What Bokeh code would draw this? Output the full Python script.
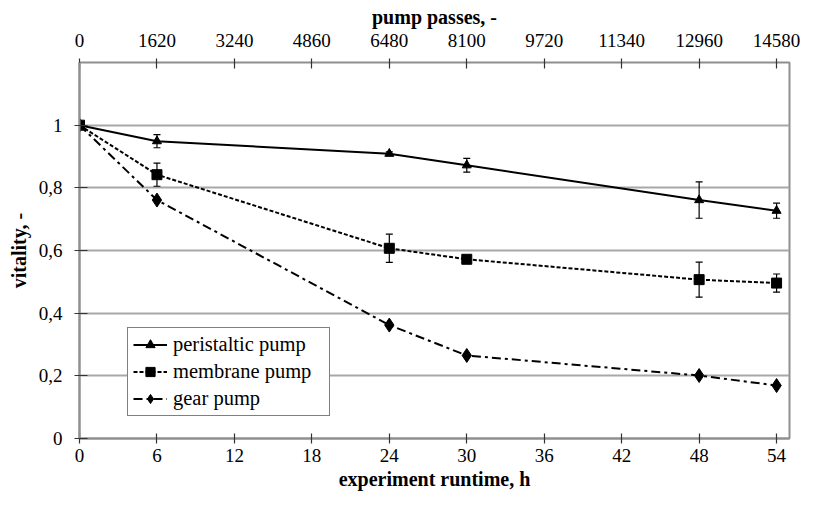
from bokeh.plotting import figure
from bokeh.models import (LinearAxis, Range1d, FixedTicker, Whisker, ColumnDataSource,
                          TeeHead, Legend, LegendItem)
from bokeh.embed import file_html
from bokeh.resources import INLINE

# ---- data ----
hours = [0, 6, 24, 30, 48, 54]
peristaltic = [1.0, 0.949, 0.909, 0.872, 0.761, 0.727]
peristaltic_err = [0.0, 0.021, 0.006, 0.022, 0.058, 0.024]
membrane = [1.0, 0.842, 0.607, 0.572, 0.507, 0.496]
membrane_err = [0.0, 0.037, 0.045, 0.008, 0.056, 0.029]
gear = [1.0, 0.761, 0.362, 0.265, 0.201, 0.169]

hour_ticks = [0, 6, 12, 18, 24, 30, 36, 42, 48, 54]
pass_ticks = [0, 1620, 3240, 4860, 6480, 8100, 9720, 11340, 12960, 14580]
y_ticks = [0, 0.2, 0.4, 0.6, 0.8, 1.0]
y_labels = ["0", "0,2", "0,4", "0,6", "0,8", "1"]

FONT = "Liberation Serif"
GRAY = "#8f8f8f"
X_MAX = 55
Y_MAX = 1.2

p = figure(width=800, height=492, x_range=Range1d(0, X_MAX), y_range=Range1d(0, Y_MAX),
           output_backend="svg", toolbar_location=None,
           min_border_left=79, min_border_right=11, min_border_top=62, min_border_bottom=54)
p.background_fill_color = "white"
p.border_fill_color = "white"
p.outline_line_color = GRAY
p.outline_line_width = 2

passes_per_hour = pass_ticks[-1] / hour_ticks[-1]
p.extra_x_ranges = {"passes": Range1d(0, X_MAX * passes_per_hour)}

def style_axis(ax, label):
    ax.axis_label = label
    ax.axis_label_text_font = FONT
    ax.axis_label_text_font_style = "bold"
    ax.axis_label_text_font_size = "20px"
    ax.axis_label_text_color = "black"
    ax.major_label_text_font = FONT
    ax.major_label_text_font_size = "19px"
    ax.major_label_text_color = "black"
    ax.axis_line_color = GRAY
    ax.axis_line_width = 2
    ax.major_tick_line_color = "#333333"
    ax.major_tick_line_width = 1.2
    ax.major_tick_in = 5
    ax.major_tick_out = 5
    ax.minor_tick_line_color = None

xa = p.xaxis[0]
style_axis(xa, "experiment runtime, h")
xa.ticker = FixedTicker(ticks=hour_ticks)
xa.major_label_standoff = 5
xa.axis_label_standoff = 3

ya = p.yaxis[0]
style_axis(ya, "vitality, -")
ya.ticker = FixedTicker(ticks=y_ticks)
ya.major_label_overrides = {t: l for t, l in zip(y_ticks, y_labels)}
ya.major_label_standoff = 12
ya.axis_label_standoff = 6
ya.major_tick_in = 8

top = LinearAxis(x_range_name="passes")
style_axis(top, "pump passes, -")
top.ticker = FixedTicker(ticks=pass_ticks)
top.major_label_standoff = 12
top.axis_label_standoff = 3
top.axis_line_color = None
top.major_tick_in = 6
top.major_tick_out = 4
p.add_layout(top, "above")

p.xgrid.grid_line_color = None
p.ygrid.ticker = FixedTicker(ticks=y_ticks[1:])
p.ygrid.grid_line_color = "#a8a8a8"
p.ygrid.grid_line_width = 2

# error bars
def add_whisker(xs, ys, errs):
    xv = [x for x, e in zip(xs, errs) if e > 0]
    up = [y + e for y, e in zip(ys, errs) if e > 0]
    lo = [y - e for y, e in zip(ys, errs) if e > 0]
    src = ColumnDataSource(dict(x=xv, up=up, lo=lo))
    w = Whisker(base="x", upper="up", lower="lo", source=src,
                line_color="black", line_width=1.2,
                upper_head=TeeHead(size=7, line_color="black", line_width=1.2),
                lower_head=TeeHead(size=7, line_color="black", line_width=1.2))
    p.add_layout(w)

add_whisker(hours, peristaltic, peristaltic_err)
add_whisker(hours, membrane, membrane_err)

l1 = p.line(hours, peristaltic, line_color="black", line_width=2)
m1 = p.scatter(hours, peristaltic, marker="triangle", size=9, color="black")
l2 = p.line(hours, membrane, line_color="black", line_width=2, line_dash="4 2")
m2 = p.scatter(hours, membrane, marker="square", size=10, color="black")
l3 = p.line(hours, gear, line_color="black", line_width=2, line_dash="9 4 3 4")
m3 = p.scatter(hours, gear, marker="diamond", size=14, color="black")

legend = Legend(items=[LegendItem(label="peristaltic pump", renderers=[l1, m1]),
                       LegendItem(label="membrane pump", renderers=[l2, m2]),
                       LegendItem(label="gear pump", renderers=[l3, m3])],
                location=(48, 22))
legend.label_text_font = FONT
legend.label_text_font_size = "20.5px"
legend.label_text_color = "black"
legend.border_line_color = "black"
legend.border_line_width = 1.5
legend.background_fill_alpha = 1
legend.glyph_width = 34
legend.glyph_height = 23
legend.label_height = 23
legend.label_width = 151
legend.label_standoff = 6
legend.spacing = 4
legend.padding = 5
legend.margin = 0
p.add_layout(legend, "center")

open("out.html", "w").write(file_html(p, INLINE))
